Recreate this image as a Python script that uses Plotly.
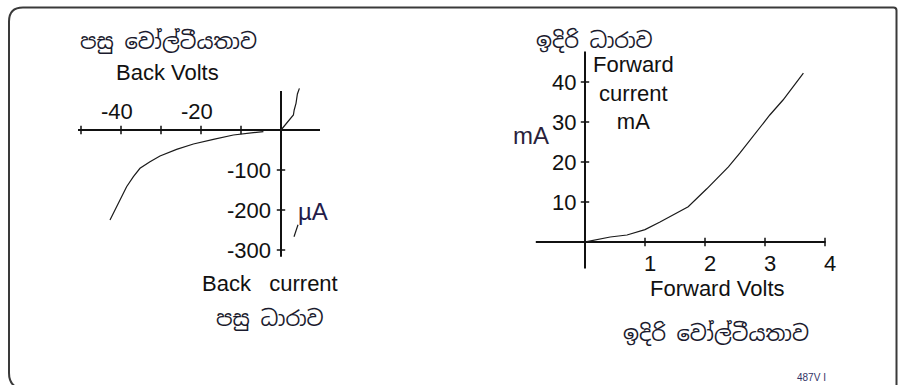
import plotly.graph_objects as go

W, H = 898, 385

# Reverse-bias characteristic: back volts (V) against back current (µA)
rev_v = [-42.75, -41.1, -38.6, -36.9, -35.25, -32.75, -30.25, -26.1, -21.9, -16.9, -11.9, -6.9, -4.4]
rev_i = [-225, -191.7, -141.7, -116.7, -95.8, -79.2, -65, -48.3, -35, -23.3, -12.5, -6.7, -4.2]
# forward rise sketched on the same back-bias axes
rise_v = [0, 1.4, 3.1, 3.3, 3.75, 4.1, 4.6]
rise_i = [0, 16.7, 37.5, 50, 66.7, 90, 104]
# short stroke beside the µA label
stroke_v = [3.25, 4.25]
stroke_i = [-267, -237]

# Forward characteristic: forward volts (V) against forward current (mA)
fwd_v = [0.03, 0.12, 0.42, 0.7, 1.0, 1.25, 1.42, 1.72, 2.03, 2.39, 2.58, 2.8, 3.08, 3.3, 3.64]
fwd_i = [0.1, 0.4, 1.25, 1.75, 3.1, 5.0, 6.3, 8.8, 13.3, 18.8, 22.2, 26.3, 31.75, 35.5, 42.2]

# Ticks and labels
back_v_ticks = [-50, -40, -30, -20, -10]
back_v_labels = ["-40", "-20"]
back_v_label_pos = [-40, -20]
back_i_ticks = [-100, -200, -300]
back_i_labels = ["-100", "-200", "-300"]
fwd_v_ticks = [1, 2, 3, 4]
fwd_v_labels = ["1", "2", "3", "4"]
fwd_i_ticks = [10, 20, 30, 40]
fwd_i_labels = ["10", "20", "30", "40"]

# Extents of the drawn axis lines
back_v_extent = [-50.75, 9.75]
back_i_extent = [-316.7, 97.5]
fwd_v_extent = [-0.82, 4.01]
fwd_i_extent = [-6.6, 47.6]

INK = "#111111"
LATIN = "Liberation Sans, Arial, sans-serif"
SINHALA = "Noto Sans Sinhala, Iskoola Pota, Noto Sans, sans-serif"


def fx(p):
    return p / W


def fy(p):
    return 1 - p / H


fig = go.Figure()


def axis_lines(xa, ya, xext, yext, xticks, yticks):
    fig.add_trace(go.Scatter(x=xext, y=[0, 0], mode="lines", xaxis=xa, yaxis=ya,
                             line=dict(color=INK, width=2), hoverinfo="skip"))
    fig.add_trace(go.Scatter(x=[0, 0], y=yext, mode="lines", xaxis=xa, yaxis=ya,
                             line=dict(color=INK, width=2), hoverinfo="skip"))
    fig.add_trace(go.Scatter(x=xticks, y=[0] * len(xticks), mode="markers", xaxis=xa, yaxis=ya,
                             marker=dict(symbol="line-ns", size=6, line=dict(color=INK, width=1.5)),
                             hoverinfo="skip"))
    fig.add_trace(go.Scatter(x=[0] * len(yticks), y=yticks, mode="markers", xaxis=xa, yaxis=ya,
                             marker=dict(symbol="line-ew", size=6, line=dict(color=INK, width=1.5)),
                             hoverinfo="skip"))


axis_lines("x", "y", back_v_extent, back_i_extent, back_v_ticks, back_i_ticks)
axis_lines("x2", "y2", fwd_v_extent, fwd_i_extent, fwd_v_ticks, fwd_i_ticks)

curve = dict(color="#1a1a1a", width=1.2)
fig.add_trace(go.Scatter(x=rev_v, y=rev_i, mode="lines", xaxis="x", yaxis="y", line=curve))
fig.add_trace(go.Scatter(x=rise_v, y=rise_i, mode="lines", xaxis="x", yaxis="y", line=curve))
fig.add_trace(go.Scatter(x=stroke_v, y=stroke_i, mode="lines", xaxis="x", yaxis="y", line=curve))
fig.add_trace(go.Scatter(x=fwd_v, y=fwd_i, mode="lines", xaxis="x2", yaxis="y2", line=curve))

ann = []
tick_font = dict(family=LATIN, size=22, color=INK)
for v, t in zip(back_v_label_pos, back_v_labels):
    ann.append(dict(x=v, y=0, xref="x", yref="y", text=t, showarrow=False, font=tick_font,
                    xanchor="center", yanchor="middle", xshift=-4, yshift=19))
for v, t in zip(back_i_ticks, back_i_labels):
    ann.append(dict(x=0, y=v, xref="x", yref="y", text=t, showarrow=False, font=tick_font,
                    xanchor="right", yanchor="middle", xshift=-8))
for v, t in zip(fwd_v_ticks, fwd_v_labels):
    ann.append(dict(x=v, y=0, xref="x2", yref="y2", text=t, showarrow=False, font=tick_font,
                    xanchor="center", yanchor="middle", xshift=5, yshift=-21))
for v, t in zip(fwd_i_ticks, fwd_i_labels):
    ann.append(dict(x=0, y=v, xref="x2", yref="y2", text=t, showarrow=False, font=tick_font,
                    xanchor="right", yanchor="middle", xshift=-7))


def label(cx, cy, text, family=LATIN, size=22, color=INK):
    ann.append(dict(x=fx(cx), y=fy(cy), xref="paper", yref="paper", text=text, showarrow=False,
                    font=dict(family=family, size=size, color=color),
                    xanchor="center", yanchor="middle"))


label(168, 41, "පසු වෝල්ටීයතාව", SINHALA, 21, "#1b1b2e")
label(167, 72, "Back Volts")
label(313, 212, "µA", LATIN, 24, "#241c4a")
label(270, 283, "Back\u00a0\u00a0\u00a0current")
label(270, 318, "පසු ධාරාව", SINHALA, 21, "#1b1b2e")

label(594, 40, "ඉදිරි ධාරාව", SINHALA, 21, "#1b1b2e")
label(633, 93, "Forward<br>current<br>mA")
label(531, 135, "mA", LATIN, 24, "#2a1f3c")
label(717, 288, "Forward Volts")
label(716, 333, "ඉදිරි වෝල්ටීයතාව", SINHALA, 21, "#1b1b2e")
label(811, 377, "487V I", LATIN, 10, "#333366")

# Rounded frame around both graphs
L, T, R, B = 9, 7.5, 896.5, 389
r = 14
frame = (f"M {fx(L)},{fy(T + r)} Q {fx(L)},{fy(T)} {fx(L + r)},{fy(T)} "
         f"L {fx(R - 3)},{fy(T)} Q {fx(R)},{fy(T)} {fx(R)},{fy(T + 3)} "
         f"L {fx(R)},{fy(B)} L {fx(L + 12)},{fy(B)} Q {fx(L)},{fy(B - 3)} {fx(L)},{fy(B - 16)} Z")

fig.update_layout(
    width=W, height=H, autosize=False,
    margin=dict(l=0, r=0, t=0, b=0),
    paper_bgcolor="white", plot_bgcolor="white",
    showlegend=False,
    annotations=ann,
    shapes=[dict(type="path", path=frame, xref="paper", yref="paper",
                 line=dict(color="#3a3a3a", width=2), fillcolor="rgba(0,0,0,0)")],
    xaxis=dict(domain=[fx(61), fx(341)], range=[-55, 15], visible=False, fixedrange=True),
    yaxis=dict(domain=[fy(266), fy(82)], range=[-340, 120], visible=False, fixedrange=True),
    xaxis2=dict(domain=[fx(525), fx(855)], range=[-1, 4.5], visible=False, anchor="y2", fixedrange=True),
    yaxis2=dict(domain=[fy(282), fy(42)], range=[-10, 50], visible=False, anchor="x2", fixedrange=True),
)

fig.write_html("out.html", config={"displayModeBar": False})
